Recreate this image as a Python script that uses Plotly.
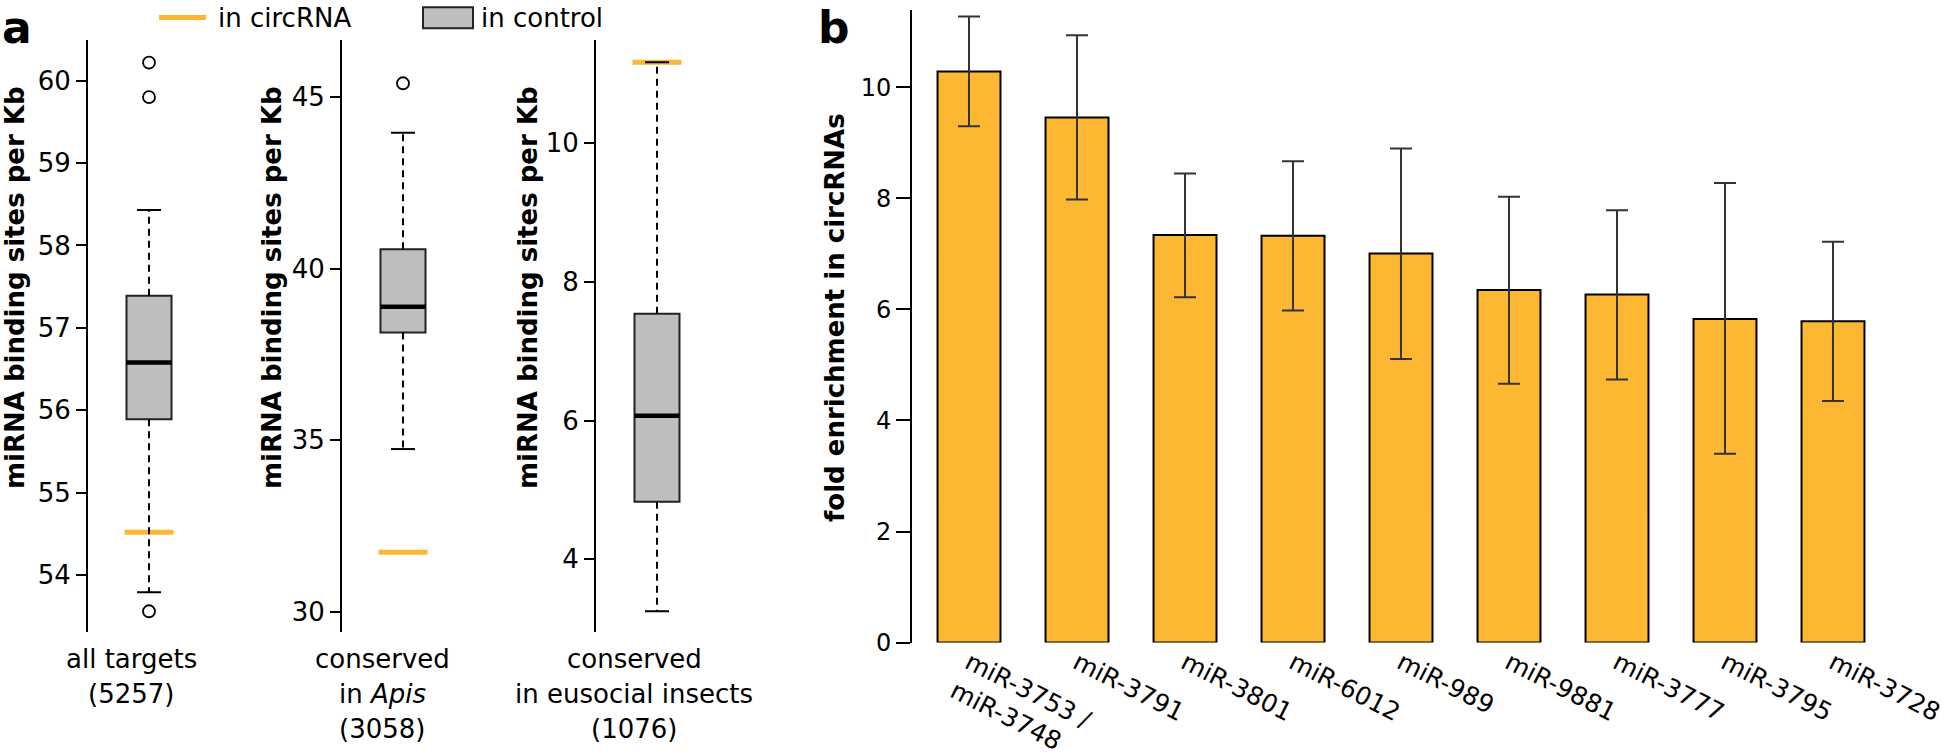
import plotly.graph_objects as go

FONT = "DejaVu Sans"
ORANGE = "#FDB833"
GRAY = "#BEBEBE"
W, H = 1944, 756

# ---------------- Panel a data ----------------
group_labels = [["all targets", "(5257)"],
                ["conserved", "in <i>Apis</i>", "(3058)"],
                ["conserved", "in eusocial insects", "(1076)"]]
q1 = [55.89, 38.14, 4.83]
median = [56.58, 38.89, 6.07]
q3 = [57.39, 40.56, 7.54]
whisker_low = [53.79, 34.74, 3.25]
whisker_high = [58.43, 43.96, 11.17]
outliers = [[60.22, 59.80, 53.56], [45.40], []]
circ_value = [54.52, 31.73, 11.17]
a_tickvals = [[54, 55, 56, 57, 58, 59, 60], [30, 35, 40, 45], [4, 6, 8, 10]]

# ---------------- Panel b data ----------------
mirnas = ["miR-3753 /<br>miR-3748", "miR-3791", "miR-3801", "miR-6012", "miR-989",
          "miR-9881", "miR-3777", "miR-3795", "miR-3728"]
fold = [10.29, 9.46, 7.34, 7.33, 7.01, 6.35, 6.27, 5.83, 5.79]
ci_high = [11.28, 10.94, 8.45, 8.67, 8.90, 8.03, 7.79, 8.28, 7.22]
ci_low = [9.30, 7.98, 6.22, 5.98, 5.11, 4.66, 4.74, 3.40, 4.35]
b_tickvals = [0, 2, 4, 6, 8, 10]


def fx(px):
    return px / W


def fy(py):
    return 1 - py / H


# ---------------- layout geometry ----------------
a_axis_px = [88, 342, 596]
a_panel_w = 122
a_ranges = [[53.312, 60.494], [29.417, 46.661], [2.956, 11.49]]
a_ydom = [fy(631.7), fy(40)]
BOXW = 45 / a_panel_w
CAPW = 24 / a_panel_w
ORW = 49 / a_panel_w
XC = 0.5

fig = go.Figure()
layout_axes = {}

for i in range(3):
    xa = "x" if i == 0 else f"x{i+1}"
    ya = "y" if i == 0 else f"y{i+1}"
    common = dict(xaxis=xa, yaxis=ya, showlegend=False, hoverinfo="skip")
    # box body
    fig.add_trace(go.Bar(x=[XC], base=[q1[i]], y=[q3[i] - q1[i]], width=BOXW,
                         marker=dict(color=GRAY, line=dict(color="#222222", width=2)),
                         **common))
    # circRNA value
    fig.add_trace(go.Scatter(x=[XC - ORW / 2, XC + ORW / 2], y=[circ_value[i]] * 2,
                             mode="lines", line=dict(color=ORANGE, width=5), **common))
    # whiskers
    fig.add_trace(go.Scatter(x=[XC, XC, None, XC, XC],
                             y=[q3[i], whisker_high[i], None, q1[i], whisker_low[i]],
                             mode="lines", line=dict(color="black", width=2, dash="7px,5px"),
                             **common))
    # caps
    fig.add_trace(go.Scatter(x=[XC - CAPW / 2, XC + CAPW / 2, None, XC - CAPW / 2, XC + CAPW / 2],
                             y=[whisker_high[i]] * 2 + [None] + [whisker_low[i]] * 2,
                             mode="lines", line=dict(color="black", width=2), **common))
    # median
    fig.add_trace(go.Scatter(x=[XC - BOXW / 2, XC + BOXW / 2], y=[median[i]] * 2,
                             mode="lines", line=dict(color="black", width=4.5), **common))
    # outliers
    if outliers[i]:
        fig.add_trace(go.Scatter(x=[XC] * len(outliers[i]), y=outliers[i], mode="markers",
                                 marker=dict(symbol="circle-open", size=12,
                                             line=dict(color="black", width=1.8), color="black"),
                                 **common))
    xkey = "xaxis" if i == 0 else f"xaxis{i+1}"
    ykey = "yaxis" if i == 0 else f"yaxis{i+1}"
    layout_axes[xkey] = dict(domain=[fx(a_axis_px[i]), fx(a_axis_px[i] + a_panel_w)],
                             range=[0, 1], visible=False, anchor=ya, automargin=False)
    layout_axes[ykey] = dict(domain=a_ydom, range=a_ranges[i], anchor=xa, automargin=False,
                             tickvals=a_tickvals[i], showline=True, linecolor="black",
                             linewidth=2, ticks="outside", ticklen=10, tickwidth=2,
                             tickcolor="black", showgrid=False, zeroline=False,
                             tickfont=dict(family=FONT, size=26, color="black"))

# ---------------- Panel b ----------------
err_up = [h - v for h, v in zip(ci_high, fold)]
err_dn = [v - l for v, l in zip(fold, ci_low)]
fig.add_trace(go.Bar(x=mirnas, y=fold, width=0.583, xaxis="x4", yaxis="y4",
                     marker=dict(color=ORANGE, line=dict(color="black", width=2)),
                     error_y=dict(type="data", array=err_up, arrayminus=err_dn,
                                  color="#333333", thickness=2, width=11),
                     showlegend=False, hoverinfo="skip"))

layout_axes["xaxis4"] = dict(domain=[fx(912), fx(1887)], range=[-0.528, 8.5], type="category",
                             anchor="y4", showline=False, ticks="", tickangle=27,
                             automargin=False,
                             showgrid=False, zeroline=False, ticklabelstandoff=0,
                             tickfont=dict(family=FONT, size=25, color="black"))
layout_axes["yaxis4"] = dict(domain=[fy(642.5), fy(10)], range=[0, 11.396], anchor="x4",
                             automargin=False,
                             tickvals=b_tickvals, showline=True, linecolor="black",
                             linewidth=2, ticks="outside", ticklen=14, tickwidth=2,
                             tickcolor="black", showgrid=False, zeroline=False,
                             tickfont=dict(family=FONT, size=24, color="black"))

# ---------------- annotations ----------------
ann = []


def add_text(text, x, y, size, xanchor="center", yanchor="middle", angle=0, bold=False):
    ann.append(dict(text=f"<b>{text}</b>" if bold else text, x=fx(x), y=fy(y),
                    xref="paper", yref="paper", xanchor=xanchor, yanchor=yanchor,
                    textangle=angle, showarrow=False,
                    font=dict(family=FONT, size=size, color="black")))


add_text("a", 0, 0, 44, xanchor="left", yanchor="top", bold=True)
add_text("b", 833.5, 0, 44, yanchor="top", bold=True)
for xc in [15, 272, 528]:
    add_text("miRNA binding sites per Kb", xc, 288, 26, angle=-90, bold=True)
add_text("fold enrichment in circRNAs", 835, 318, 26, angle=-90, bold=True)
for xc, lines in zip([131, 382, 634], group_labels):
    for k, line in enumerate(lines):
        add_text(line, xc, 659 + 35 * k, 26)
add_text("in circRNA", 216, 18, 26, xanchor="left")
add_text("in control", 479, 18, 26, xanchor="left")

shapes = [
    dict(type="line", xref="paper", yref="paper", x0=fx(159), x1=fx(206), y0=fy(17.5), y1=fy(17.5),
         line=dict(color=ORANGE, width=5)),
    dict(type="rect", xref="paper", yref="paper", x0=fx(423), x1=fx(473), y0=fy(28.3), y1=fy(7.3),
         fillcolor=GRAY, line=dict(color="#222222", width=2)),
]

fig.update_layout(width=W, height=H, margin=dict(l=0, r=0, t=0, b=0, autoexpand=False),
                  plot_bgcolor="white", paper_bgcolor="white", showlegend=False,
                  font=dict(family=FONT, color="black"), barmode="overlay",
                  annotations=ann, shapes=shapes, **layout_axes)

# remove the default 8px page margin so the figure sits at the window origin
fig.write_html("out.html", config={"displayModeBar": False},
               post_script="document.body.style.margin='0';"
                           "document.documentElement.style.overflow='hidden';")
